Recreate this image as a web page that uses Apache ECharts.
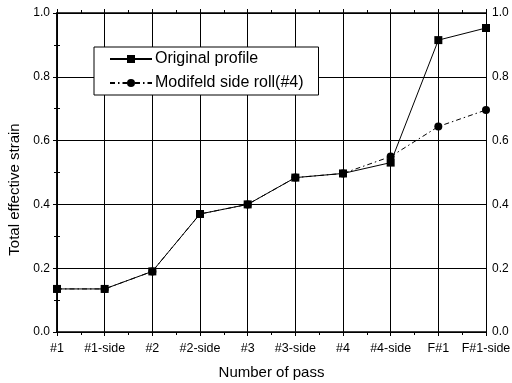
<!DOCTYPE html>
<html>
<head>
<meta charset="utf-8">
<script src="https://cdn.jsdelivr.net/npm/echarts@6/dist/echarts.min.js"></script>
<style>
html,body{margin:0;padding:0;background:#fff;}
#c{width:512px;height:383px;}
</style>
</head>
<body>
<div id="c"></div>
<script>
const categories = ['#1','#1-side','#2','#2-side','#3','#3-side','#4','#4-side','F#1','F#1-side'];
const originalProfile = [0.135,0.135,0.19,0.37,0.40,0.484,0.497,0.531,0.915,0.953];
const modifiedSideRoll = [0.135,0.135,0.19,0.37,0.40,0.484,0.497,0.55,0.644,0.696];
const yTicks = [0.0,0.2,0.4,0.6,0.8,1.0];

const FONT = 'Liberation Sans';
const chart = echarts.init(document.getElementById('c'), null, {renderer:'canvas'});
const axisLine = {show:true, lineStyle:{color:'#000', width:1.5}};
const yFmt = v => v.toFixed(1);
const decoX = (pos) => ({
  type:'value', position:pos, min:0, max:9, interval:1,
  axisLine:{show:false}, axisLabel:{show:false}, splitLine:{show:false},
  axisTick:{show:true, inside:false, length:4, lineStyle:{color:'#000', width:1}},
  minorTick:{show:true, splitNumber:2, length:3, lineStyle:{color:'#000', width:1}}
});
chart.setOption({
  backgroundColor:'#fff',
  animation:false,
  textStyle:{fontFamily:FONT},
  grid:{left:57, right:26, top:13, bottom:51, containLabel:false, outerBoundsMode:'none'},
  legend:{
    left:94, top:47, orient:'vertical',
    data:['Original profile','Modifeld side roll(#4)'],
    backgroundColor:'#fff', borderColor:'#000', borderWidth:1,
    padding:[4,15,4,15], itemGap:8, itemWidth:42, itemHeight:10,
    textStyle:{fontFamily:FONT, fontSize:16, color:'#000', padding:[0,0,0,-2]}
  },
  xAxis:[
    {
      type:'category', data:categories, boundaryGap:false, position:'bottom',
      axisLine:axisLine,
      axisTick:{show:false},
      axisLabel:{color:'#000', fontFamily:FONT, fontSize:12.5, margin:10, interval:0},
      splitLine:{show:true, lineStyle:{color:'#000', width:1}},
      name:'Number of pass', nameLocation:'middle', nameGap:33,
      nameTextStyle:{color:'#000', fontFamily:FONT, fontSize:15}
    },
    decoX('bottom'),
    Object.assign(decoX('top'), {axisLine:axisLine})
  ],
  yAxis:[
    {
      type:'value', min:0, max:1, interval:0.2, position:'left',
      axisLine:axisLine,
      axisTick:{show:true, inside:false, length:4, lineStyle:{color:'#000'}},
      minorTick:{show:true, splitNumber:2, length:3, lineStyle:{color:'#000'}},
      axisLabel:{color:'#000', fontFamily:FONT, fontSize:12, margin:7, formatter:yFmt},
      splitLine:{show:true, lineStyle:{color:'#000', width:1}},
      name:'Total effective strain', nameLocation:'middle', nameGap:32,
      nameTextStyle:{color:'#000', fontFamily:FONT, fontSize:15, padding:[0,34,0,0]}
    },
    {
      type:'value', min:0, max:1, interval:0.2, position:'right',
      axisLine:axisLine,
      axisTick:{show:true, inside:false, length:4, lineStyle:{color:'#000'}},
      minorTick:{show:true, splitNumber:2, length:3, lineStyle:{color:'#000'}},
      axisLabel:{color:'#000', fontFamily:FONT, fontSize:12, margin:6, formatter:yFmt},
      splitLine:{show:false}
    }
  ],
  series:[
    {
      name:'Modifeld side roll(#4)', type:'line', data:modifiedSideRoll,
      xAxisIndex:0, yAxisIndex:0,
      symbol:'circle', symbolSize:8,
      itemStyle:{color:'#000'},
      lineStyle:{color:'#000', width:1, type:[5,3,1.5,3]},
      z:3
    },
    {
      name:'Original profile', type:'line', data:originalProfile,
      xAxisIndex:0, yAxisIndex:0,
      symbol:'rect', symbolSize:8,
      itemStyle:{color:'#000'},
      lineStyle:{color:'#000', width:1},
      z:4
    }
  ]
});
</script>
</body>
</html>
